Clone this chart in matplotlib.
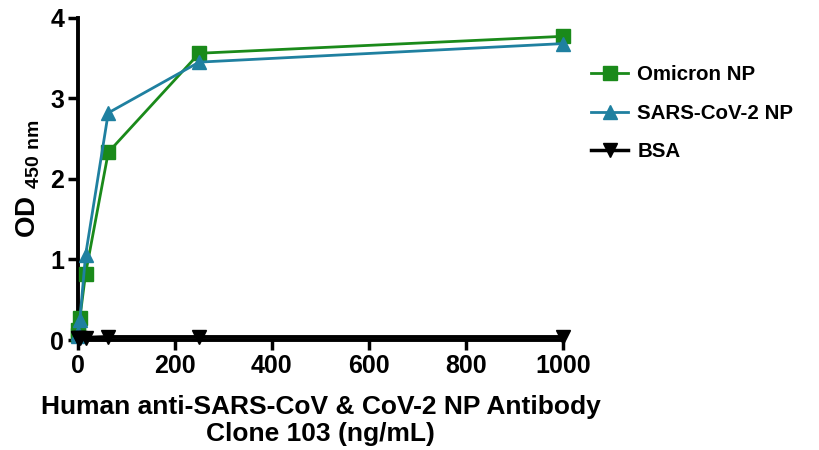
import matplotlib
matplotlib.use("Agg")
import matplotlib.pyplot as plt

conc = [0, 0.98, 3.9, 15.6, 62.5, 250, 1000]
omicron = [0.06, 0.12, 0.27, 0.82, 2.33, 3.56, 3.77]
sars2 = [0.05, 0.09, 0.25, 1.05, 2.82, 3.45, 3.68]
bsa = [0.03, 0.03, 0.03, 0.03, 0.04, 0.04, 0.04]

xticks = [0, 200, 400, 600, 800, 1000]
yticks = [0, 1, 2, 3, 4]

plt.rcParams['font.family'] = ['Liberation Sans', 'DejaVu Sans']
plt.rcParams['font.weight'] = 'bold'

fig = plt.figure(figsize=(8.19, 4.5), dpi=100)
ax = fig.add_axes([0.0952, 0.2444, 0.592, 0.716])

green = '#1a8a1a'
teal = '#1f80a0'
ax.plot(conc, omicron, color=green, marker='s', ms=10, lw=2, label='Omicron NP', clip_on=False, zorder=3)
ax.plot(conc, sars2, color=teal, marker='^', ms=10, lw=2, label='SARS-CoV-2 NP', clip_on=False, zorder=4)
ax.plot(conc, bsa, color='black', marker='v', ms=10, lw=2.5, label='BSA', clip_on=False, zorder=5)

ax.set_xlim(0, 1000)
ax.set_ylim(0, 4)
ax.set_xticks(xticks)
ax.set_yticks(yticks)
for s in ['top', 'right']:
    ax.spines[s].set_visible(False)
for s in ['left', 'bottom']:
    ax.spines[s].set_linewidth(2.8)
ax.tick_params(direction='out', length=7, width=2.5, labelsize=18, pad=3)
for lab in ax.get_xticklabels() + ax.get_yticklabels():
    lab.set_fontweight('bold')

ax.set_xlabel('Human anti-SARS-CoV & CoV-2 NP Antibody\nClone 103 (ng/mL)', fontsize=19, fontweight='bold',
              labelpad=12, linespacing=1.2)
ax.set_ylabel(r'OD $_{\mathregular{450\ nm}}$', fontsize=20, fontweight='bold', labelpad=6)

leg = ax.legend(loc='upper left', bbox_to_anchor=(1.02, 0.91), frameon=False,
                prop={'weight': 'bold', 'size': 14.8}, handlelength=1.8, labelspacing=0.95, handletextpad=0.45)

fig.savefig('out.png', dpi=100)
